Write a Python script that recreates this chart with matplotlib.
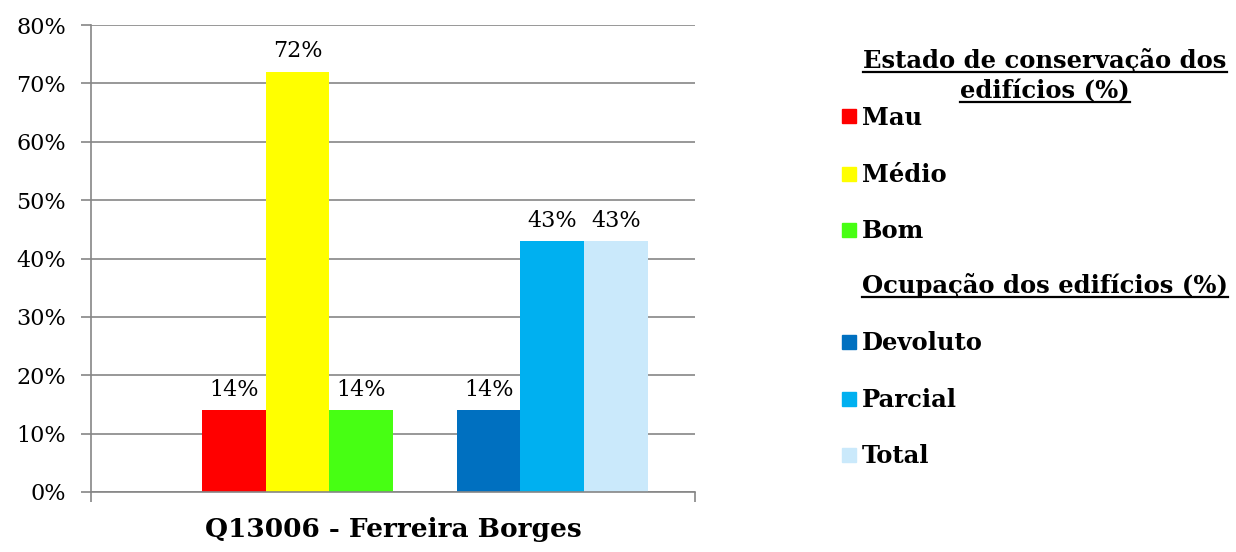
import matplotlib
matplotlib.use("Agg")
import matplotlib.pyplot as plt
from matplotlib.patches import Rectangle
from matplotlib.lines import Line2D
from matplotlib.ticker import PercentFormatter

title = "Q13006 - Ferreira Borges"
series = ["Estado de conservação dos edifícios (%)", "Mau", "Médio", "Bom",
          "Ocupação dos edifícios (%)", "Devoluto", "Parcial", "Total"]
values = [None, 14, 72, 14, None, 14, 43, 43]
colors = [None, "#FF0000", "#FFFF00", "#47FF13", None, "#0070C0", "#00B0F0", "#CAE9FB"]
is_header = [True, False, False, False, True, False, False, False]
yticks = [0, 10, 20, 30, 40, 50, 60, 70, 80]

FONT = "DejaVu Serif"
plt.rcParams["font.family"] = FONT

fig = plt.figure(figsize=(12.36, 5.52), dpi=100)
ax = fig.add_axes([91/1236, 60/552, 604/1236, 467/552])

gap = 47/63.6
for i, (v, c) in enumerate(zip(values, colors)):
    if v is None:
        continue
    ax.bar(i, v, width=1.0, color=c, zorder=3)
    ax.text(i, v + 3.5, f"{v}%", ha="center", va="center", fontsize=16, zorder=4)

ax.set_xlim(-0.5 - gap, len(values) - 0.5 + gap)
ax.set_ylim(0, 80)
ax.set_yticks(yticks)
ax.yaxis.set_major_formatter(PercentFormatter(decimals=0))
ax.set_xticks([-0.5 - gap, len(values) - 0.5 + gap])
ax.set_xticklabels(["", ""])
ax.tick_params(axis="both", colors="#868686", labelcolor="black", labelsize=16,
               length=7, width=1.2, direction="out")
ax.tick_params(axis="y", pad=11)
ax.grid(axis="y", color="#868686", linewidth=1.2, zorder=0)
for s in ["top", "right"]:
    ax.spines[s].set_visible(False)
for s in ["left", "bottom"]:
    ax.spines[s].set_color("#868686")
    ax.spines[s].set_linewidth(1.2)
    ax.spines[s].set_zorder(5)

fig.text(393/1236, 1 - 530/552, title, ha="center", va="center",
         fontsize=19, fontweight="bold")

# Legend (manual)
W, H = 1236, 552
def fx(x): return x / W
def fy(y): return 1 - y / H

LFS = 17.5
underline_texts = []
hdr1_lines = ["Estado de conservação dos", "edifícios (%)"]
t = fig.text(fx(1045), fy(68), hdr1_lines[0], ha="center", va="baseline", fontsize=LFS, fontweight="bold")
underline_texts.append(t)
t = fig.text(fx(1045), fy(98), hdr1_lines[1], ha="center", va="baseline", fontsize=LFS, fontweight="bold")
underline_texts.append(t)

ys = {1: 125, 2: 182, 3: 238, 4: 293, 5: 350, 6: 407, 7: 463}
for i in range(1, len(series)):
    y = ys[i]
    if is_header[i]:
        t = fig.text(fx(1045), fy(y), series[i], ha="center", va="baseline", fontsize=LFS, fontweight="bold")
        underline_texts.append(t)
    else:
        fig.patches.append(Rectangle((fx(842), fy(y - 1.5)), 14/W, 14/H, transform=fig.transFigure,
                                     color=colors[i], figure=fig))
        fig.text(fx(862), fy(y), series[i], ha="left", va="baseline", fontsize=LFS, fontweight="bold")

fig.canvas.draw()
r = fig.canvas.get_renderer()
for t in underline_texts:
    bb = t.get_window_extent(renderer=r)
    xb, yb = t.get_transform().transform(t.get_position())
    yl = yb - 3.5
    fig.lines.append(Line2D([bb.x0 / W, bb.x1 / W], [yl / H, yl / H], transform=fig.transFigure,
                            color="black", linewidth=1.6, figure=fig))

fig.savefig("out.png", dpi=100)
